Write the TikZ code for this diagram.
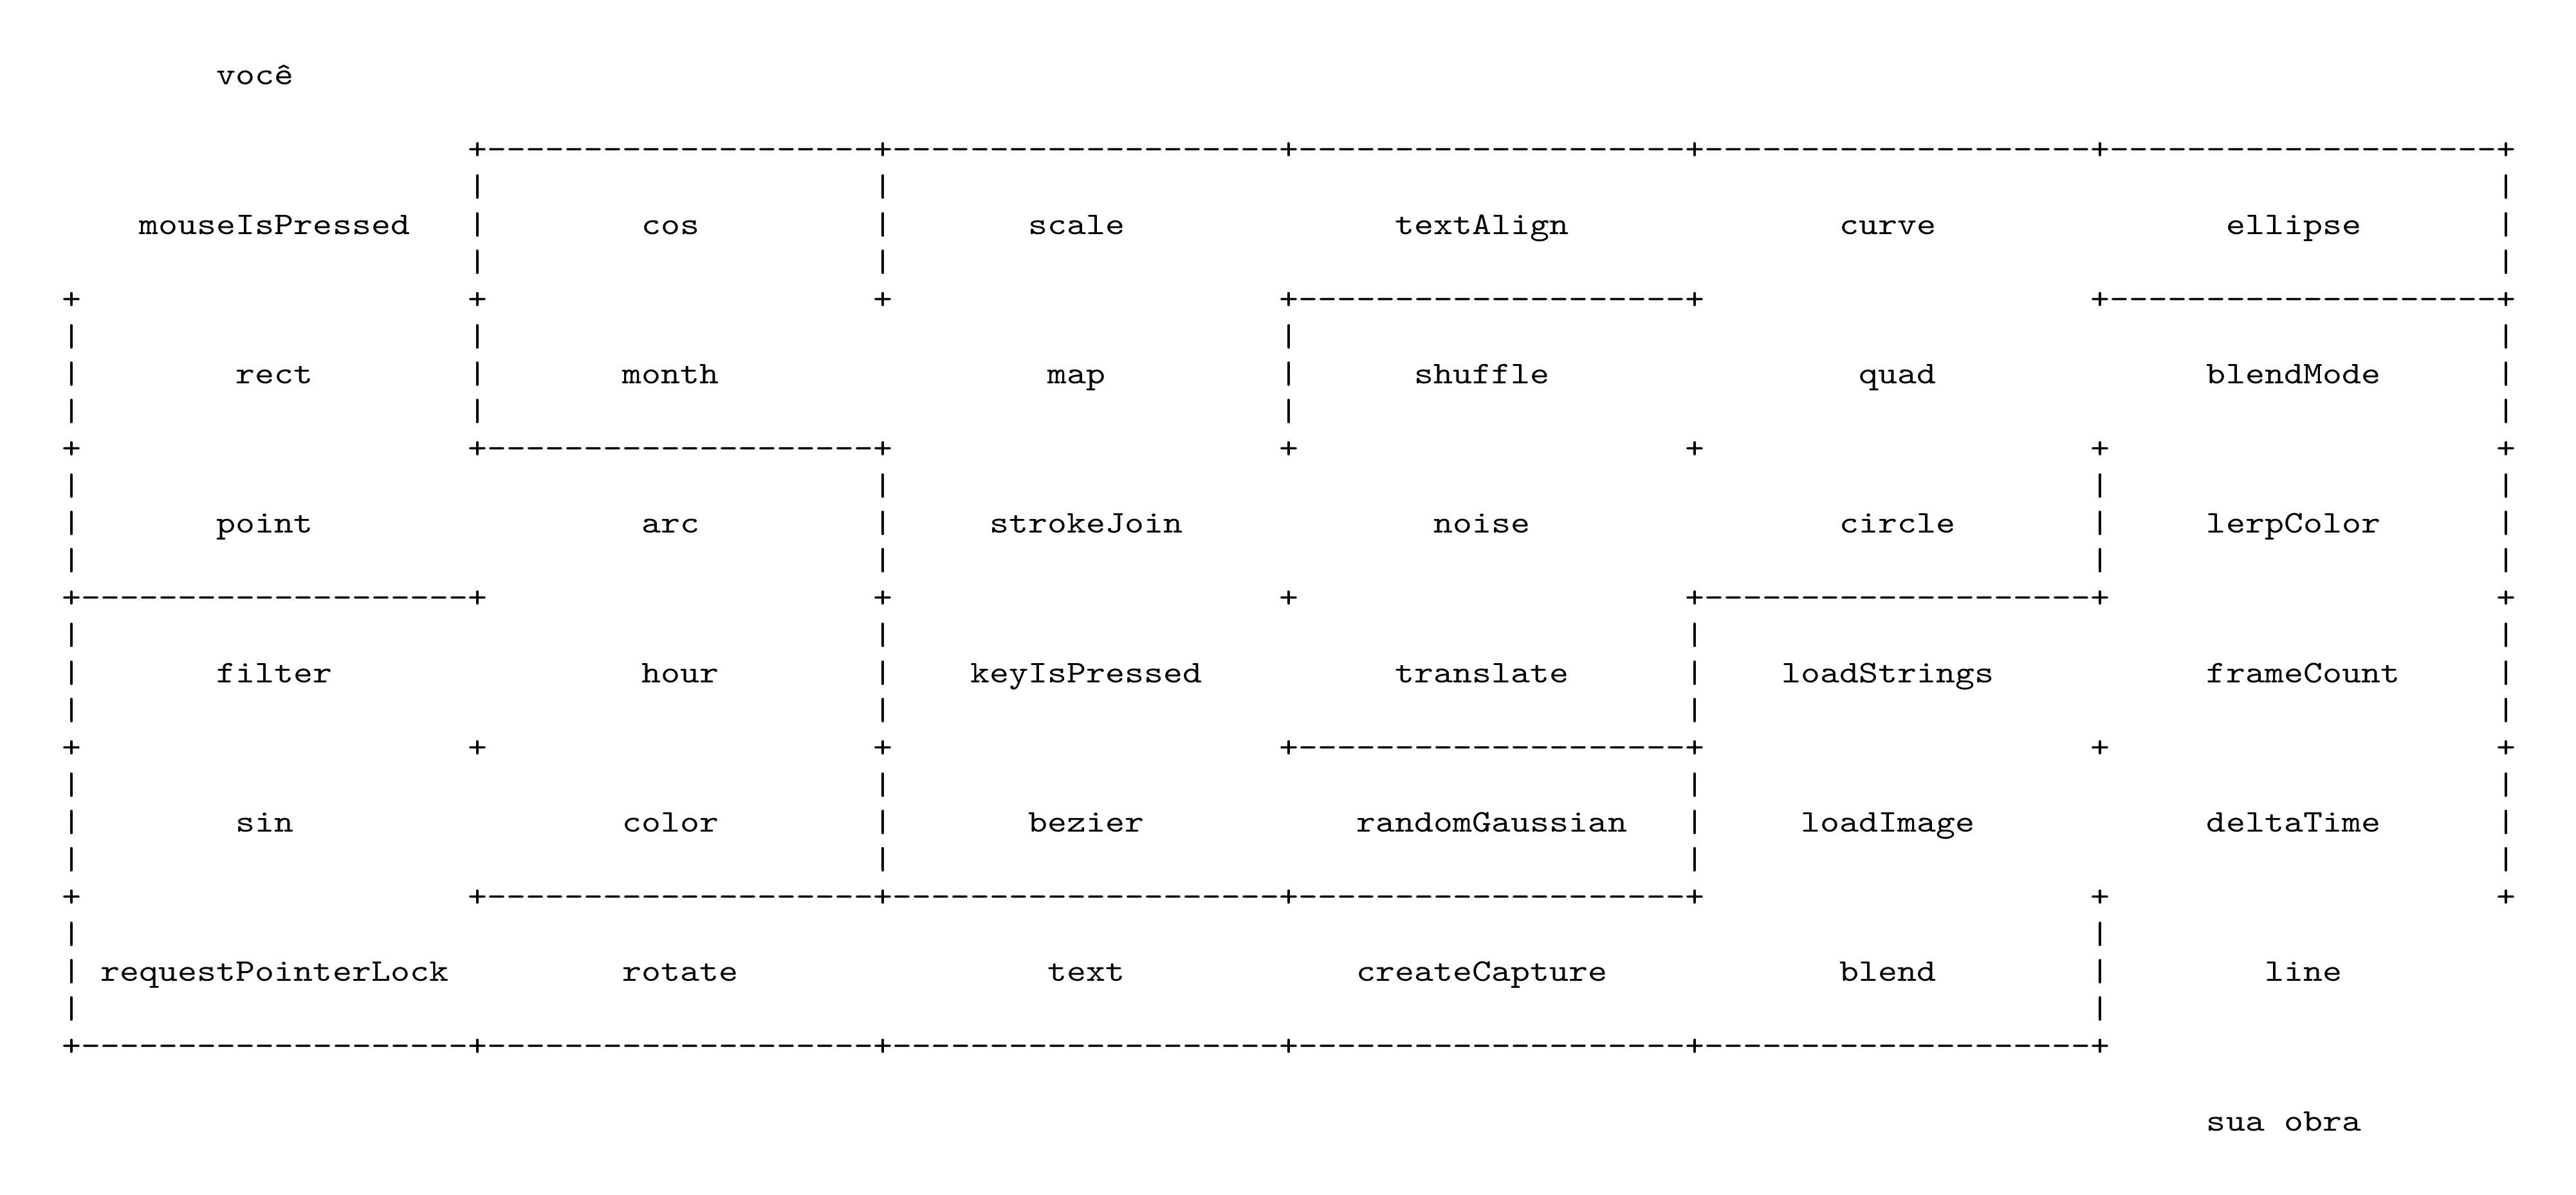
\documentclass[tikz,border=0pt]{standalone}
\usepackage{fontspec}
\usepackage{graphicx}

% one run of twenty hyphens; the kerns keep the hyphens from merging
\newcommand\dfive{-\kern0pt-\kern0pt-\kern0pt-\kern0pt-\kern0pt}
\newcommand\seg{\dfive\dfive\dfive\dfive}
% widen the typewriter glyphs so that one character is 6pt wide
\newcommand\tx[1]{\scalebox{1.1662}[1]{#1}}

\tikzset{
  ascii/.style={anchor=base west, inner sep=0pt, outer sep=0pt,
                font=\ttfamily\fontsize{9.8pt}{11pt}\selectfont},
}
% \cellat{name}{column}{line}{text}: text starting at a character cell
\newcommand\cellat[4]{%
  \node[ascii] (#1) at ({19.3pt+6pt*#2},{-26.31pt-11.605pt*#3}) {\tx{#4}};}

\begin{document}
\begin{tikzpicture}
\fill[white] (0,0) rectangle (800pt,-371.2pt);
\useasboundingbox (0,0) rectangle (800pt,-371.2pt);

% ---- horizontal border runs
\cellat{top}{21}{2}{+\seg+\seg+\seg+\seg+\seg+}
\cellat{hA}{63}{6}{+\seg+}
\cellat{hB}{105}{6}{+\seg+}
\cellat{hC}{21}{10}{+\seg+}
\cellat{hD}{0}{14}{+\seg+}
\cellat{hE}{84}{14}{+\seg+}
\cellat{hF}{63}{18}{+\seg+}
\cellat{hG}{21}{22}{+\seg+\seg+\seg+}
\cellat{bottom}{0}{26}{+\seg+\seg+\seg+\seg+\seg+}

% ---- lone corner marks
\foreach \l/\c in {6/0,6/21,6/42,
                   10/0,10/63,10/84,10/105,10/126,
                   14/42,14/63,14/126,
                   18/0,18/21,18/42,18/105,18/126,
                   22/0,22/105,22/126}
  {\cellat{plus-\l-\c}{\c}{\l}{+}}

% ---- vertical bars
\foreach \c in {21,42,126}{\foreach \l in {3,4,5}{\cellat{bar-\l-\c}{\c}{\l}{|}}}
\foreach \c in {0,21,63,126}{\foreach \l in {7,8,9}{\cellat{bar-\l-\c}{\c}{\l}{|}}}
\foreach \c in {0,42,105,126}{\foreach \l in {11,12,13}{\cellat{bar-\l-\c}{\c}{\l}{|}}}
\foreach \c in {0,42,84,126}{\foreach \l in {15,16,17,19,20,21}{\cellat{bar-\l-\c}{\c}{\l}{|}}}
\foreach \c in {0,105}{\foreach \l in {23,24,25}{\cellat{bar-\l-\c}{\c}{\l}{|}}}

% ---- labels
\cellat{voce}{8}{0}{você}

\cellat{mouseIsPressed}{4}{4}{mouseIsPressed}
\cellat{cos}{30}{4}{cos}
\cellat{scale}{50}{4}{scale}
\cellat{textAlign}{69}{4}{textAlign}
\cellat{curve}{92}{4}{curve}
\cellat{ellipse}{112}{4}{ellipse}

\cellat{rect}{9}{8}{rect}
\cellat{month}{29}{8}{month}
\cellat{map}{51}{8}{map}
\cellat{shuffle}{70}{8}{shuffle}
\cellat{quad}{93}{8}{quad}
\cellat{blendMode}{111}{8}{blendMode}

\cellat{point}{8}{12}{point}
\cellat{arc}{30}{12}{arc}
\cellat{strokeJoin}{48}{12}{strokeJoin}
\cellat{noise}{71}{12}{noise}
\cellat{circle}{92}{12}{circle}
\cellat{lerpColor}{111}{12}{lerpColor}

\cellat{filter}{8}{16}{filter}
\cellat{hour}{30}{16}{hour}
\cellat{keyIsPressed}{47}{16}{keyIsPressed}
\cellat{translate}{69}{16}{translate}
\cellat{loadStrings}{89}{16}{loadStrings}
\cellat{frameCount}{111}{16}{frameCount}

\cellat{sin}{9}{20}{sin}
\cellat{color}{29}{20}{color}
\cellat{bezier}{50}{20}{bezier}
\cellat{randomGaussian}{67}{20}{randomGaussian}
\cellat{loadImage}{90}{20}{loadImage}
\cellat{deltaTime}{111}{20}{deltaTime}

\cellat{requestPointerLock}{2}{24}{requestPointerLock}
\cellat{rotate}{29}{24}{rotate}
\cellat{text}{51}{24}{text}
\cellat{createCapture}{67}{24}{createCapture}
\cellat{blend}{92}{24}{blend}
\cellat{line}{114}{24}{line}

\cellat{suaobra}{111}{28}{sua obra}
\end{tikzpicture}
\end{document}
